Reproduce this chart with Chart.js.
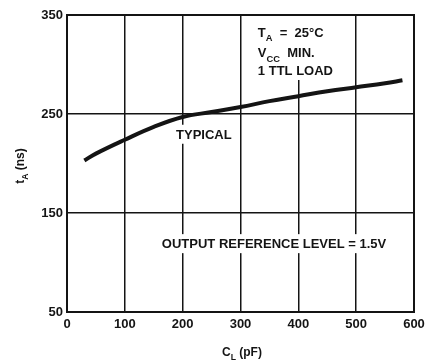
<!DOCTYPE html>
<html>
<head>
<meta charset="utf-8">
<script src="https://cdn.jsdelivr.net/npm/chart.js@4.4.1/dist/chart.umd.min.js"></script>
<style>
  html, body { margin: 0; padding: 0; background: #fff; }
  #wrap { width: 435px; height: 360px; position: relative; }
</style>
</head>
<body>
<div id="wrap"><canvas id="c" width="435" height="360"></canvas></div>
<script>
// Load capacitance (pF) and typical access time (ns)
const loadCapacitance = [30, 50, 100, 150, 200, 250, 300, 350, 400, 450, 500, 550, 580];
const accessTime = [203, 210, 224, 237, 247, 252, 257, 263, 268, 273, 277, 281, 284];
const xTicks = [0, 100, 200, 300, 400, 500, 600];
const yTicks = [50, 150, 250, 350];

const INK = '#141414';
const FONT = 'Liberation Sans, Arial, sans-serif';

// Measure / draw text with subscript pieces: parts = [[text, isSub], ...]
function richWidth(ctx, parts, size) {
  let w = 0;
  ctx.save();
  parts.forEach(([t, sub]) => {
    ctx.font = 'bold ' + (sub ? size * 0.72 : size) + 'px ' + FONT;
    w += ctx.measureText(t).width;
  });
  ctx.restore();
  return w;
}
function drawRich(ctx, parts, x, y, size, align) {
  ctx.save();
  ctx.fillStyle = INK;
  ctx.textBaseline = 'alphabetic';
  ctx.textAlign = 'left';
  let cx = align === 'center' ? x - richWidth(ctx, parts, size) / 2 : x;
  parts.forEach(([t, sub]) => {
    ctx.font = 'bold ' + (sub ? size * 0.72 : size) + 'px ' + FONT;
    ctx.fillText(t, cx, sub ? y + size * 0.35 : y);
    cx += ctx.measureText(t).width;
  });
  ctx.restore();
}

// In-plot labels (value-space anchors for the baseline-left corner)
const labels = [
  { parts: [['T', false], ['A', true], ['  =  25°C', false]], x: 330, y: 328 },
  { parts: [['V', false], ['CC', true], ['  MIN.', false]], x: 330, y: 307.5 },
  { parts: [['1 TTL LOAD', false]], x: 330, y: 289.5 },
  { parts: [['TYPICAL', false]], x: 188.5, y: 225 },
  { parts: [['OUTPUT REFERENCE LEVEL = 1.5V', false]], x: 164, y: 114.5 }
];
const LABEL_SIZE = 13;

const notes = {
  id: 'notes',
  // white knock-outs so grid lines break around the labels
  beforeDatasetsDraw(chart) {
    const ctx = chart.ctx;
    const xs = chart.scales.x, ys = chart.scales.y;
    ctx.save();
    ctx.fillStyle = '#fff';
    labels.forEach(l => {
      const x = xs.getPixelForValue(l.x), y = ys.getPixelForValue(l.y);
      const w = richWidth(ctx, l.parts, LABEL_SIZE);
      ctx.fillRect(x - 3, y - LABEL_SIZE - 1, w + 6, LABEL_SIZE + 6);
    });
    // conditions block is open up to the top frame
    const bx = xs.getPixelForValue(330), by = ys.getPixelForValue(289.5);
    ctx.fillRect(bx - 3, chart.chartArea.top, 80, by + 5 - chart.chartArea.top);
    ctx.restore();
  },
  afterDraw(chart) {
    const ctx = chart.ctx;
    const xs = chart.scales.x, ys = chart.scales.y;
    labels.forEach(l => drawRich(ctx, l.parts, xs.getPixelForValue(l.x), ys.getPixelForValue(l.y), LABEL_SIZE, 'left'));
    // Axis titles
    drawRich(ctx, [['C', false], ['L', true], [' (pF)', false]], 222, 356, 12, 'left');
    ctx.save();
    ctx.translate(24, 166);
    ctx.rotate(-Math.PI / 2);
    drawRich(ctx, [['t', false], ['A', true], [' (ns)', false]], 0, 0, 12, 'center');
    ctx.restore();
    // Plot frame
    const a = chart.chartArea;
    ctx.save();
    ctx.strokeStyle = INK;
    ctx.lineWidth = 2;
    ctx.strokeRect(a.left, a.top, a.right - a.left, a.bottom - a.top);
    ctx.restore();
  }
};

new Chart(document.getElementById('c'), {
  type: 'line',
  data: {
    datasets: [{
      data: loadCapacitance.map((c, i) => ({ x: c, y: accessTime[i] })),
      borderColor: INK,
      borderWidth: 4,
      pointRadius: 0,
      tension: 0.4,
      fill: false
    }]
  },
  options: {
    responsive: false,
    animation: false,
    layout: { padding: { left: 0, top: 15, right: 21, bottom: 0 } },
    plugins: { legend: { display: false }, tooltip: { enabled: false } },
    scales: {
      x: {
        type: 'linear', min: 0, max: 600,
        afterBuildTicks: s => { s.ticks = xTicks.map(v => ({ value: v })); },
        afterFit: s => { s.height = 48; },
        grid: { color: INK, lineWidth: 1.5, drawTicks: false },
        border: { display: false },
        ticks: { color: INK, padding: 5, font: { family: FONT, size: 13, weight: 'bold' } }
      },
      y: {
        type: 'linear', min: 50, max: 350,
        afterBuildTicks: s => { s.ticks = yTicks.map(v => ({ value: v })); },
        afterFit: s => { s.width = 67; },
        grid: { color: INK, lineWidth: 1.5, drawTicks: false },
        border: { display: false },
        ticks: { color: INK, padding: 4, font: { family: FONT, size: 13, weight: 'bold' } }
      }
    }
  },
  plugins: [notes]
});
</script>
</body>
</html>
